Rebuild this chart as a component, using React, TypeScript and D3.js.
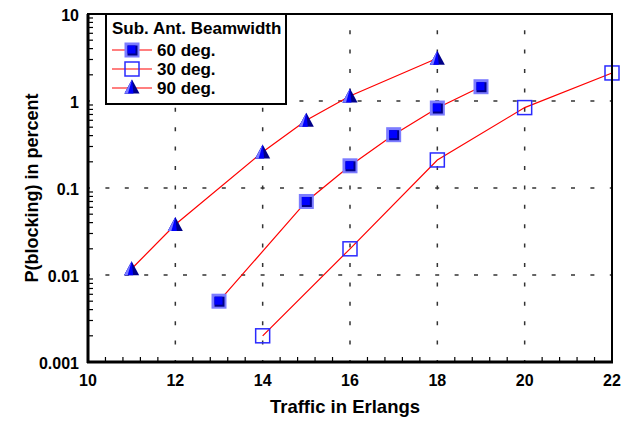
import React from 'react';
import * as d3 from 'd3';

// traffic (Erlangs) vs blocking probability (percent)
const x60 = [13, 15, 16, 17, 18, 19];
const y60 = [0.005, 0.07, 0.18, 0.41, 0.83, 1.46];
const x30 = [14, 16, 18, 20, 22];
const y30 = [0.002, 0.02, 0.21, 0.84, 2.1];
const x90 = [11, 12, 14, 15, 16, 18];
const y90 = [0.0118, 0.038, 0.26, 0.6, 1.14, 3.1];

const xTicks = [10, 12, 14, 16, 18, 20, 22];
const yTicks = [0.001, 0.01, 0.1, 1, 10];
const yTickLabels = ['0.001', '0.01', '0.1', '1', '10'];
const legendTitle = 'Sub. Ant. Beamwidth';
const legendLabels = ['60 deg.', '30 deg.', '90 deg.'];

const W = 633;
const H = 421;
const margin = { top: 14, right: 21, bottom: 59, left: 88 };
const font = '"Liberation Sans", Arial, sans-serif';

const LIGHT = '#7c7cff';
const BLUE = '#0000ff';
const DARK = '#000088';

const FilledSquare = ({ x, y }: { x: number; y: number }) => (
  <g transform={`translate(${x},${y})`}>
    <rect x={-7.5} y={-7.5} width={15} height={15} fill={LIGHT} />
    <rect x={-4.5} y={-4.5} width={10} height={10} fill={DARK} />
    <rect x={-4.5} y={-4.5} width={8} height={8} fill={BLUE} />
  </g>
);

const OpenSquare = ({ x, y }: { x: number; y: number }) => (
  <rect x={x - 7} y={y - 7} width={14} height={14} fill="none" stroke="#2a2aff" strokeWidth={1.5} />
);

const Triangle = ({ x, y }: { x: number; y: number }) => (
  <g transform={`translate(${x},${y})`}>
    <polygon points="0,-7.5 -7.5,6.5 7.5,6.5" fill={DARK} />
    <polygon points="0,-7.5 -7.5,6.5 1.5,6.5" fill={BLUE} />
    <polygon points="0,-7.5 -7.5,6.5 -4,6.5" fill={LIGHT} />
  </g>
);

const App = () => {
  const x = d3.scaleLinear().domain([10, 22]).range([margin.left, W - margin.right]);
  const y = d3.scaleLog().domain([0.001, 10]).range([H - margin.bottom, margin.top]);
  const [x0, x1] = x.range();
  const [y0, y1] = y.range();

  const line = d3.line<[number, number]>().x(d => x(d[0])).y(d => y(d[1]));
  const pts = (xs: number[], ys: number[]) => xs.map((v, i) => [v, ys[i]] as [number, number]);

  const xMinor = d3.range(10, 22.001, 0.4).filter(v => Math.abs(v / 2 - Math.round(v / 2)) > 0.01);
  const yMinor: number[] = [];
  [0.001, 0.01, 0.1, 1].forEach(d => d3.range(2, 10).forEach(k => yMinor.push(d * k)));

  const grid = { stroke: '#333', strokeWidth: 1.5, strokeDasharray: '4 15.4', strokeDashoffset: 2 };

  const lx = 106, ly = 14, lw = 180, lh = 90;
  const rows = [50, 69, 88];

  return (
    <svg width={W} height={H} style={{ position: 'fixed', left: 0, top: 0, background: '#fff' }}
      fontFamily={font} fontWeight="bold">
      {/* grid */}
      {xTicks.slice(1, -1).map(t => (
        <line key={'gx' + t} x1={x(t)} x2={x(t)} y1={y0} y2={y1} {...grid} />
      ))}
      {yTicks.slice(1, -1).map(t => (
        <line key={'gy' + t} x1={x0} x2={x1} y1={y(t)} y2={y(t)} {...grid} />
      ))}

      {/* minor ticks */}
      {xMinor.map(t => (
        <line key={'mx' + t} x1={x(t)} x2={x(t)} y1={y0} y2={y0 - 5} stroke="#000" strokeWidth={1.2} />
      ))}
      {yMinor.map(t => (
        <line key={'my' + t} x1={x0} x2={x0 + 5} y1={y(t)} y2={y(t)} stroke="#000" strokeWidth={1.2} />
      ))}

      {/* series */}
      <path d={line(pts(x60, y60)) || ''} fill="none" stroke="#ff0000" strokeWidth={1.2} />
      <path d={line(pts(x30, y30)) || ''} fill="none" stroke="#ff0000" strokeWidth={1.2} />
      <path d={line(pts(x90, y90)) || ''} fill="none" stroke="#ff0000" strokeWidth={1.2} />
      {x60.map((v, i) => <FilledSquare key={'s' + i} x={x(v)} y={y(y60[i])} />)}
      {x30.map((v, i) => <OpenSquare key={'o' + i} x={x(v)} y={y(y30[i])} />)}
      {x90.map((v, i) => <Triangle key={'t' + i} x={x(v)} y={y(y90[i])} />)}

      {/* frame */}
      <rect x={x0} y={y1} width={x1 - x0} height={y0 - y1} fill="none" stroke="#000" strokeWidth={2} />
      <line x1={x0} x2={x0} y1={y1} y2={y0 + 1} stroke="#000" strokeWidth={3} />
      <line x1={x0 - 1} x2={x1 + 1} y1={y0} y2={y0} stroke="#000" strokeWidth={3} />

      {/* tick labels */}
      {xTicks.map(t => (
        <text key={'lx' + t} x={x(t)} y={386} textAnchor="middle" fontSize={16}>{t}</text>
      ))}
      {yTicks.map((t, i) => (
        <text key={'ly' + t} x={79} y={y(t) + 6.5} textAnchor="end" fontSize={16}>{yTickLabels[i]}</text>
      ))}

      {/* axis titles */}
      <text x={345} y={413} textAnchor="middle" fontSize={18.5}>Traffic in Erlangs</text>
      <text transform={`translate(38,188) rotate(-90)`} textAnchor="middle" fontSize={18}>P(blocking) in percent</text>

      {/* legend */}
      <rect x={lx} y={ly} width={lw} height={lh} fill="#fff" stroke="#000" strokeWidth={2} />
      <text x={112} y={33.5} fontSize={17}>{legendTitle}</text>
      {rows.map((ry, i) => (
        <g key={'lg' + i}>
          <line x1={112} x2={152} y1={ry} y2={ry} stroke="#ff0000" strokeWidth={1.2} />
          {i === 0 && <FilledSquare x={132} y={ry} />}
          {i === 1 && <OpenSquare x={132} y={ry} />}
          {i === 2 && <Triangle x={132} y={ry - 1} />}
          <text x={157} y={ry + 6} fontSize={17}>{legendLabels[i]}</text>
        </g>
      ))}
    </svg>
  );
};

export default App;
